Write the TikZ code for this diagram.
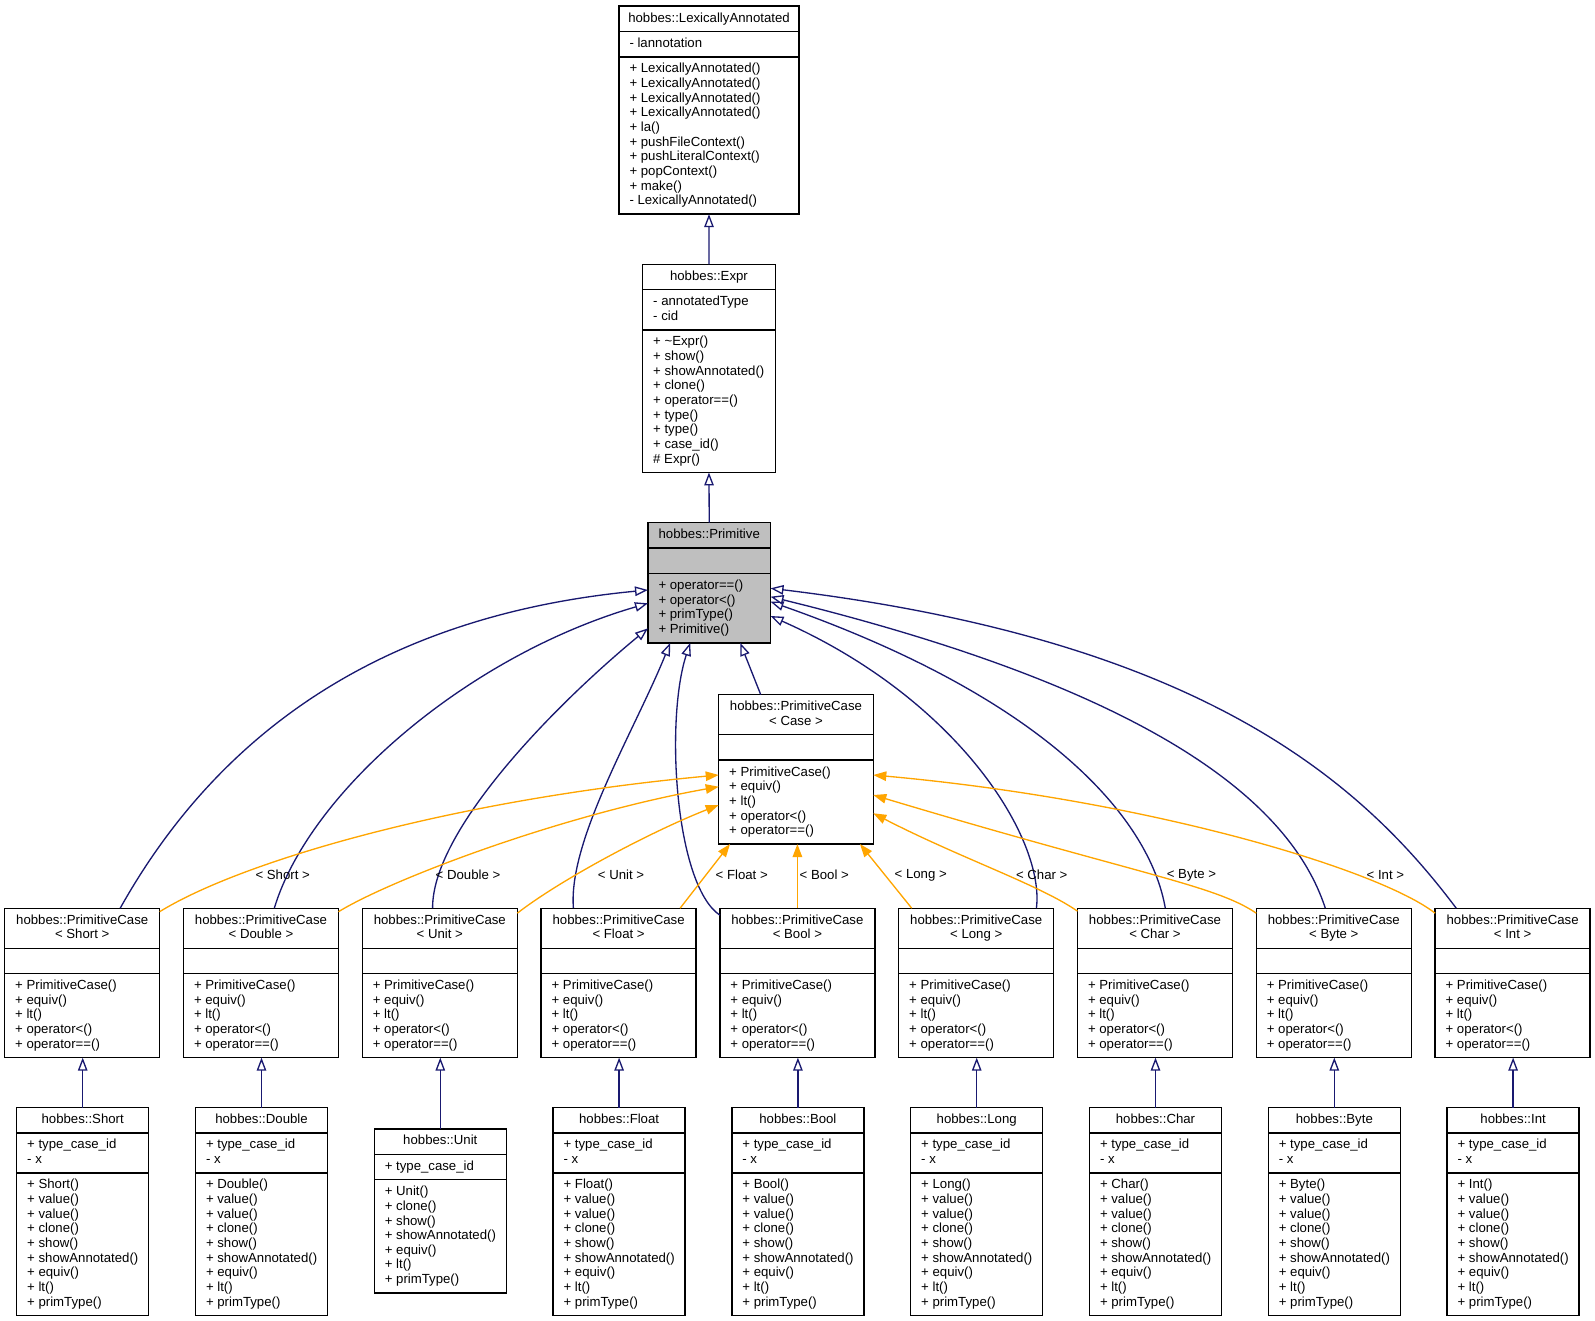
\documentclass[tikz,border=0pt]{standalone}
\usepackage{fontspec}
\setmainfont{Liberation Sans}
\usetikzlibrary{arrows.meta}
\definecolor{navy}{HTML}{191970}
\definecolor{edgeorange}{HTML}{FFA500}
\definecolor{graybox}{HTML}{BFBFBF}
\tikzset{
  boxline/.style={draw=black, line width=1.33pt},
  classbox/.style={boxline, rectangle, inner sep=0pt, outer sep=0pt},
  txt/.style={inner sep=0pt, outer sep=0pt, font=\fontsize{13.2}{14.65}\selectfont},
  inh/.style={draw=navy, line width=1.33pt, -{Triangle[length=13pt, width=9.5pt, fill=white]}},
  tmpl/.style={draw=edgeorange, line width=1.33pt, -{Triangle[length=13pt, width=9.5pt, fill=edgeorange]}},
}
\newcommand{\clsstrut}{\rule{0pt}{12.5pt}}
\def\parsecounts#1/#2/#3\relax{\def\clsna{#1}\def\clsnb{#2}\def\clsnc{#3}}
% [fill]{name}{left}{top}{width}{n1/n2/n3}{title}{attributes}{methods}
\newcommand{\umlclass}[9][white]{%
  \parsecounts#6\relax
  \pgfmathsetmacro\clsha{10.75+14.65*\clsna}%
  \pgfmathsetmacro\clshb{10.75+14.65*max(\clsnb,1)}%
  \pgfmathsetmacro\clshc{10.75+14.65*\clsnc}%
  \pgfmathsetmacro\clshall{\clsha+\clshb+\clshc}%
  \pgfmathsetmacro\clshab{\clsha+\clshb}%
  \pgfmathsetmacro\clsya{\clsha+3.5}%
  \pgfmathsetmacro\clsyb{\clshab+3.5}%
  \node[classbox, fill=#1, minimum width=#5pt, minimum height=\clshall pt, anchor=north west] (#2) at (#3,-#4) {};
  \draw[boxline] ([yshift=-\clsha pt]#2.north west) -- ([yshift=-\clsha pt]#2.north east);
  \draw[boxline] ([yshift=-\clshab pt]#2.north west) -- ([yshift=-\clshab pt]#2.north east);
  \node[txt, align=center, anchor=north] (#2-t) at ([yshift=-3.5pt]#2.north) {\clsstrut #7};
  \node[txt, align=left, anchor=north west] (#2-a) at ([xshift=10.5pt, yshift=-\clsya pt]#2.north west) {\clsstrut #8};
  \node[txt, align=left, anchor=north west] (#2-m) at ([xshift=10.5pt, yshift=-\clsyb pt]#2.north west) {\clsstrut #9};
}
\newcommand{\leafclass}[3]{%
  \umlclass{#1}{#3}{1107.5}{132}{1/2/9}{hobbes::#2}{+ type\_case\_id\\- x}%
  {+ #2()\\+ value()\\+ value()\\+ clone()\\+ show()\\+ showAnnotated()\\+ equiv()\\+ lt()\\+ primType()}%
}
\begin{document}
\begin{tikzpicture}[x=1pt, y=1pt]
\useasboundingbox (0,0) rectangle (1595,-1321);

% ---------- classes ----------
\umlclass{la}{619}{6.1}{180}{1/1/10}{hobbes::LexicallyAnnotated}{- lannotation}%
 {+ LexicallyAnnotated()\\+ LexicallyAnnotated()\\+ LexicallyAnnotated()\\+ LexicallyAnnotated()\\+ la()\\+ pushFileContext()\\+ pushLiteralContext()\\+ popContext()\\+ make()\\- LexicallyAnnotated()}
\umlclass{expr}{642.7}{264.4}{132.5}{1/2/9}{hobbes::Expr}{- annotatedType\\- cid}%
 {+ \textasciitilde Expr()\\+ show()\\+ showAnnotated()\\+ clone()\\+ operator==()\\+ type()\\+ type()\\+ case\_id()\\\# Expr()}
\umlclass[graybox]{prim}{648}{522.7}{122.5}{1/0/4}{hobbes::Primitive}{}%
 {+ operator==()\\+ operator<()\\+ primType()\\+ Primitive()}
\umlclass{case}{718.7}{694.6}{154.6}{2/0/5}{hobbes::PrimitiveCase\\< Case >}{}%
 {+ PrimitiveCase()\\+ equiv()\\+ lt()\\+ operator<()\\+ operator==()}

\foreach \T/\nm [count=\i from 0] in {Short/short,Double/double,Unit/unit,Float/float,Bool/bool,Long/long,Char/char,Byte/byte,Int/int}{
  \pgfmathsetmacro\pcleft{4.7+178.8*\i}
  \umlclass{pc\nm}{\pcleft}{908.2}{155}{2/0/5}{hobbes::PrimitiveCase\\< \T{} >}{}%
   {+ PrimitiveCase()\\+ equiv()\\+ lt()\\+ operator<()\\+ operator==()}
}

\leafclass{short}{Short}{16.7}
\leafclass{double}{Double}{195.5}
\umlclass{unit}{374.3}{1128.9}{132}{1/1/7}{hobbes::Unit}{+ type\_case\_id}%
 {+ Unit()\\+ clone()\\+ show()\\+ showAnnotated()\\+ equiv()\\+ lt()\\+ primType()}
\leafclass{float}{Float}{553.1}
\leafclass{bool}{Bool}{731.9}
\leafclass{long}{Long}{910.7}
\leafclass{char}{Char}{1089.5}
\leafclass{byte}{Byte}{1268.3}
\leafclass{int}{Int}{1447.1}

% ---------- inheritance (navy) ----------
\draw[inh] (expr.north) -- (la.south);
\draw[inh] (prim.north) -- (expr.south);
\draw[inh] ([xshift=42pt]case.north west) -- ([xshift=92.2pt]prim.south west);

\draw[inh] ([xshift=115.5pt]pcshort.north west) .. controls (220,-730) and (385,-615) .. ([yshift=-67.3pt]prim.north west);
\draw[inh] ([xshift=90.8pt]pcdouble.north west) .. controls (310,-790) and (470,-655) .. ([yshift=-80.6pt]prim.north west);
\draw[inh] ([xshift=70.3pt]pcunit.north west) .. controls (432,-830) and (555,-705) .. ([yshift=-105.6pt]prim.north west);
\draw[inh] ([xshift=32.3pt]pcfloat.north west) .. controls (568,-840) and (635,-730) .. ([xshift=22.2pt]prim.south west);
\draw[inh] ([yshift=-7pt]pcbool.north west) .. controls (675,-885) and (665,-720) .. ([xshift=42.2pt]prim.south west);
\draw[inh] ([xshift=137.7pt]pclong.north west) .. controls (1045,-840) and (960,-700) .. ([yshift=-93.3pt]prim.north east);
\draw[inh] ([xshift=87.8pt]pcchar.north west) .. controls (1150,-820) and (1050,-700) .. ([yshift=-79pt]prim.north east);
\draw[inh] ([xshift=69pt]pcbyte.north west) .. controls (1290,-800) and (1150,-690) .. ([yshift=-74pt]prim.north east);
\draw[inh] ([xshift=21.1pt]pcint.north west) .. controls (1360,-780) and (1200,-640) .. ([yshift=-65.6pt]prim.north east);

\foreach \nm in {short,double,unit,float,bool,long,char,byte,int}{
  \draw[inh] (\nm.north) -- (\nm.north |- pc\nm.south);
}

% ---------- template instantiation (orange) ----------
\draw[tmpl] ([yshift=-3.5pt]pcshort.north east) .. controls (240,-862) and (450,-800) .. ([yshift=-80.4pt]case.north west);
\draw[tmpl] ([yshift=-3.5pt]pcdouble.north east) .. controls (390,-880) and (560,-815) .. ([yshift=-92.1pt]case.north west);
\draw[tmpl] ([yshift=-5pt]pcunit.north east) .. controls (560,-880) and (650,-832) .. ([yshift=-110.4pt]case.north west);
\draw[tmpl] ([xshift=139pt]pcfloat.north west) -- ([xshift=11.3pt]case.south west);
\draw[tmpl] (pcbool.north) -- (pcbool.north |- case.south);
\draw[tmpl] ([xshift=13pt]pclong.north west) -- ([xshift=141.3pt]case.south west);
\draw[tmpl] ([yshift=-3pt]pcchar.north west) .. controls (1040,-885) and (960,-858) .. ([yshift=-118.7pt]case.north east);
\draw[tmpl] ([yshift=-5pt]pcbyte.north west) .. controls (1215,-885) and (1140,-875) .. ([yshift=-100.4pt]case.north east);
\draw[tmpl] ([yshift=-5pt]pcint.north west) .. controls (1380,-870) and (1150,-800) .. ([yshift=-80.4pt]case.north east);

% ---------- labels ----------
\node[txt] (lshort) at (282.7,-875) {< Short >};
\node[txt] (ldouble) at (468,-875) {< Double >};
\node[txt] (lunit) at (621,-875) {< Unit >};
\node[txt] (lfloat) at (741.7,-875) {< Float >};
\node[txt] (lbool) at (824.3,-875) {< Bool >};
\node[txt] (llong) at (920.7,-875) {< Long >};
\node[txt] (lchar) at (1041.7,-875) {< Char >};
\node[txt] (lbyte) at (1191.4,-875) {< Byte >};
\node[txt] (lint) at (1385.4,-875) {< Int >};
\end{tikzpicture}
\end{document}
